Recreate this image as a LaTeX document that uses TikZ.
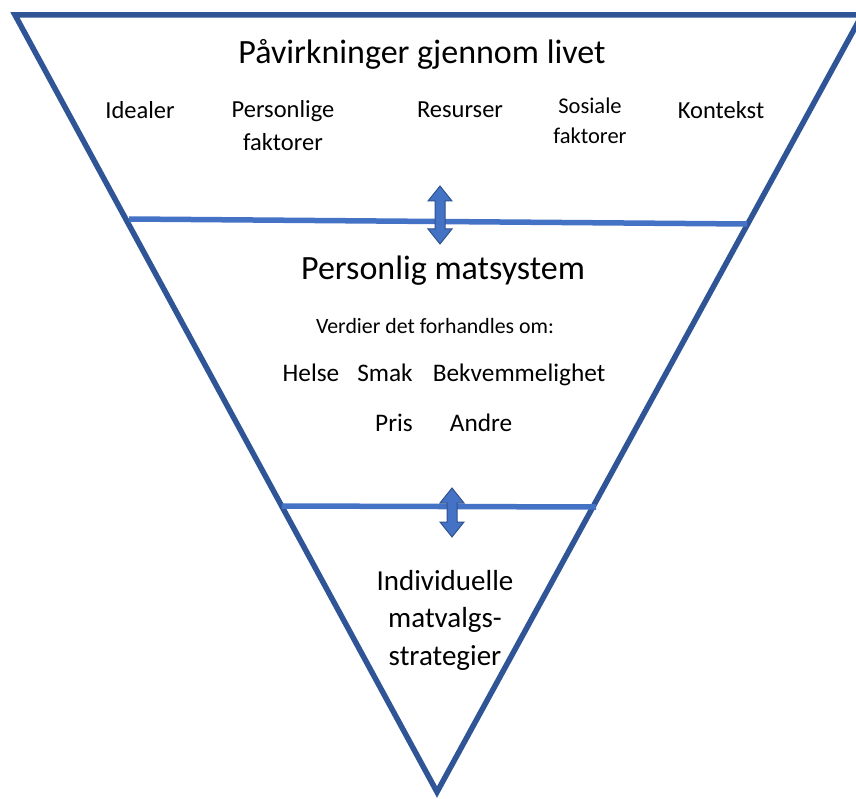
\documentclass[tikz,border=0pt]{standalone}
\usepackage{fontspec}
\setmainfont{Carlito}
\definecolor{tri}{RGB}{47,85,151}
\definecolor{band}{RGB}{68,114,196}
\definecolor{arrb}{RGB}{47,82,143}
\begin{document}
\begin{tikzpicture}[x=1pt,y=-1pt,
  tribox/.style={draw=tri,line width=5.5pt,line join=miter},
  bandline/.style={draw=band,line width=5.5pt},
  dblarrow/.style={fill=band,draw=arrb,line width=1pt,line join=miter},
  lbl/.style={inner sep=0pt,align=center,font=\fontsize{24.5}{33}\selectfont},
  val/.style={inner sep=0pt,anchor=base,font=\fontsize{25.3}{30}\selectfont},
  big/.style={inner sep=0pt,align=center,font=\fontsize{34}{40}\selectfont}]
\useasboundingbox (0,0) rectangle (856,799);
\clip (0,0) rectangle (856,799);
\coordinate (tl) at (15,15);
\coordinate (tr) at (862,15);
\coordinate (bt) at (437,792);
\draw[tribox] (tl) -- (tr) -- (bt) -- cycle;
% bands
\coordinate (b1l) at (129,219);
\coordinate (b1r) at (747,224);
\coordinate (b2l) at (282,506);
\coordinate (b2r) at (596,507);
\draw[bandline] (b1l) -- (b1r);
\draw[bandline] (b2l) -- (b2r);
% arrows
\newcommand{\dblarr}[3]{%
  \filldraw[dblarrow] (#1,#2) -- (#1+12,#2+15) -- (#1+5,#2+15) -- (#1+5,#3-15)
   -- (#1+12,#3-15) -- (#1,#3) -- (#1-12,#3-15) -- (#1-5,#3-15) -- (#1-5,#2+15)
   -- (#1-12,#2+15) -- cycle;}
\dblarr{440}{186}{244}
\dblarr{452}{488}{537}
% texts
\node[big] (t1) at (422,54) {Påvirkninger gjennom livet};
\node[lbl] (a1) at (140,110) {Idealer};
\node[lbl] (a2) at (283,126) {Personlige\\faktorer};
\node[lbl] (a3) at (460,110) {Resurser};
\node[lbl,font=\fontsize{22.5}{30}\selectfont] (a4) at (590,121) {Sosiale\\faktorer};
\node[lbl] (a5) at (721,110) {Kontekst};
\node[big] (t2) at (443,271) {Personlig matsystem};
\node[lbl,font=\fontsize{21.8}{26}\selectfont] (v) at (435,326) {Verdier det forhandles om:};
\node[val] (h1) at (311,381) {Helse};
\node[val] (h2) at (385,381) {Smak};
\node[val] (h3) at (519,381) {Bekvemmelighet};
\node[val] (h4) at (394,431) {Pris};
\node[val] (h5) at (481,431) {Andre};
\node[lbl,font=\fontsize{29}{37.5}\selectfont] (t3) at (445,620) {Individuelle\\matvalgs-\\strategier};
\end{tikzpicture}
\end{document}
